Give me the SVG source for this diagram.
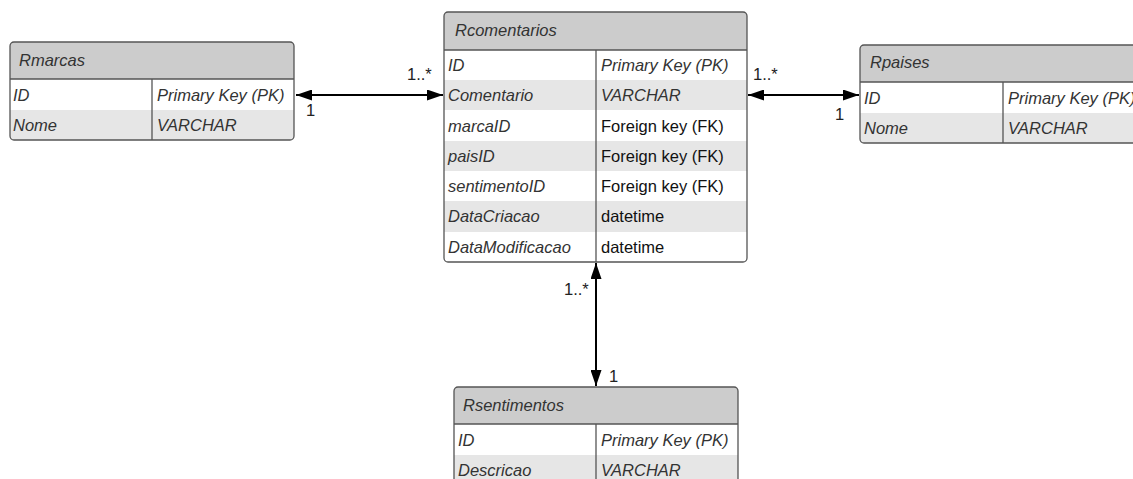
<svg xmlns="http://www.w3.org/2000/svg" width="1133" height="479" viewBox="0 0 1133 479">
<style>
.box{fill:#ffffff;stroke:#555;stroke-width:1.3}
.hdr{fill:#cccccc}
.alt{fill:#e6e6e6}
.sep{stroke:#555;stroke-width:1.3;fill:none}
.t{font-family:"Liberation Sans",Arial,sans-serif;font-size:16.5px;font-style:italic;fill:#333}
.n{font-family:"Liberation Sans",Arial,sans-serif;font-size:16.5px;fill:#111}
.lbl{font-family:"Liberation Sans",Arial,sans-serif;font-size:16.5px;fill:#222}
.c{stroke:#000;stroke-width:2;fill:none}
</style>
<defs>
<marker id="ah" viewBox="0 0 16 11" refX="16" refY="5.5" markerWidth="16" markerHeight="11" markerUnits="userSpaceOnUse" orient="auto-start-reverse">
<path d="M0,0 L16,5.5 L0,11 z" fill="#000"/>
</marker>
<clipPath id="cm"><rect x="10" y="42" width="284" height="98" rx="4"/></clipPath>
<clipPath id="cc"><rect x="444" y="12" width="303" height="250" rx="4"/></clipPath>
<clipPath id="cp"><rect x="860" y="45" width="300" height="98" rx="4"/></clipPath>
<clipPath id="cs"><rect x="454" y="387" width="284" height="110" rx="4"/></clipPath>
</defs>

<g id="connectors">
<line class="c" x1="296" y1="95" x2="443" y2="95" marker-start="url(#ah)" marker-end="url(#ah)"/>
<text class="lbl" x="407" y="80">1..*</text>
<text class="lbl" x="306" y="116">1</text>
<line class="c" x1="748" y1="95" x2="859" y2="95" marker-start="url(#ah)" marker-end="url(#ah)"/>
<text class="lbl" x="753" y="80">1..*</text>
<text class="lbl" x="835" y="120">1</text>
<line class="c" x1="596" y1="263" x2="596" y2="386" marker-start="url(#ah)" marker-end="url(#ah)"/>
<text class="lbl" x="564" y="295">1..*</text>
<text class="lbl" x="609" y="382">1</text>
</g>

<g id="Rmarcas">
<g clip-path="url(#cm)">
<rect x="10" y="42" width="284" height="98" fill="#fff"/>
<rect class="hdr" x="10" y="42" width="284" height="37"/>
<rect class="alt" x="10" y="110" width="284" height="30"/>
</g>
<line class="sep" x1="10" y1="79" x2="294" y2="79"/>
<line class="sep" x1="152" y1="79" x2="152" y2="140"/>
<rect x="10" y="42" width="284" height="98" rx="4" fill="none" stroke="#555" stroke-width="1.3"/>
<text class="t" x="19" y="66">Rmarcas</text>
<text class="t" x="13" y="101">ID</text>
<text class="t" x="157" y="101">Primary Key (PK)</text>
<text class="t" x="13" y="131">Nome</text>
<text class="t" x="157" y="131">VARCHAR</text>
</g>

<g id="Rcomentarios">
<g clip-path="url(#cc)">
<rect x="444" y="12" width="303" height="250" fill="#fff"/>
<rect class="hdr" x="444" y="12" width="303" height="38"/>
<rect class="alt" x="444" y="80" width="303" height="30"/>
<rect class="alt" x="444" y="141" width="303" height="30"/>
<rect class="alt" x="444" y="201" width="303" height="31"/>
</g>
<line class="sep" x1="444" y1="50" x2="747" y2="50"/>
<line class="sep" x1="596" y1="50" x2="596" y2="262"/>
<rect x="444" y="12" width="303" height="250" rx="4" fill="none" stroke="#555" stroke-width="1.3"/>
<text class="t" x="455" y="36">Rcomentarios</text>
<text class="t" x="448" y="71">ID</text>
<text class="t" x="601" y="71">Primary Key (PK)</text>
<text class="t" x="448" y="101">Comentario</text>
<text class="t" x="601" y="101">VARCHAR</text>
<text class="t" x="448" y="132">marcaID</text>
<text class="n" x="601" y="132">Foreign key (FK)</text>
<text class="t" x="448" y="162">paisID</text>
<text class="n" x="601" y="162">Foreign key (FK)</text>
<text class="t" x="448" y="192">sentimentoID</text>
<text class="n" x="601" y="192">Foreign key (FK)</text>
<text class="t" x="448" y="222">DataCriacao</text>
<text class="n" x="601" y="222">datetime</text>
<text class="t" x="448" y="253">DataModificacao</text>
<text class="n" x="601" y="253">datetime</text>
</g>

<g id="Rpaises">
<g clip-path="url(#cp)">
<rect x="860" y="45" width="300" height="98" fill="#fff"/>
<rect class="hdr" x="860" y="45" width="300" height="37"/>
<rect class="alt" x="860" y="113" width="300" height="30"/>
</g>
<line class="sep" x1="860" y1="82" x2="1133" y2="82"/>
<line class="sep" x1="1003" y1="82" x2="1003" y2="143"/>
<rect x="860" y="45" width="300" height="98" rx="4" fill="none" stroke="#555" stroke-width="1.3"/>
<text class="t" x="870" y="68">Rpaises</text>
<text class="t" x="864" y="104">ID</text>
<text class="t" x="1008" y="104">Primary Key (PK)</text>
<text class="t" x="864" y="134">Nome</text>
<text class="t" x="1008" y="134">VARCHAR</text>
</g>

<g id="Rsentimentos">
<g clip-path="url(#cs)">
<rect x="454" y="387" width="284" height="110" fill="#fff"/>
<rect class="hdr" x="454" y="387" width="284" height="37"/>
<rect class="alt" x="454" y="455" width="284" height="40"/>
</g>
<line class="sep" x1="454" y1="424" x2="738" y2="424"/>
<line class="sep" x1="596" y1="424" x2="596" y2="479"/>
<rect x="454" y="387" width="284" height="110" rx="4" fill="none" stroke="#555" stroke-width="1.3"/>
<text class="t" x="463" y="411">Rsentimentos</text>
<text class="t" x="458" y="446">ID</text>
<text class="t" x="601" y="446">Primary Key (PK)</text>
<text class="t" x="458" y="476">Descricao</text>
<text class="t" x="601" y="476">VARCHAR</text>
</g>
</svg>
